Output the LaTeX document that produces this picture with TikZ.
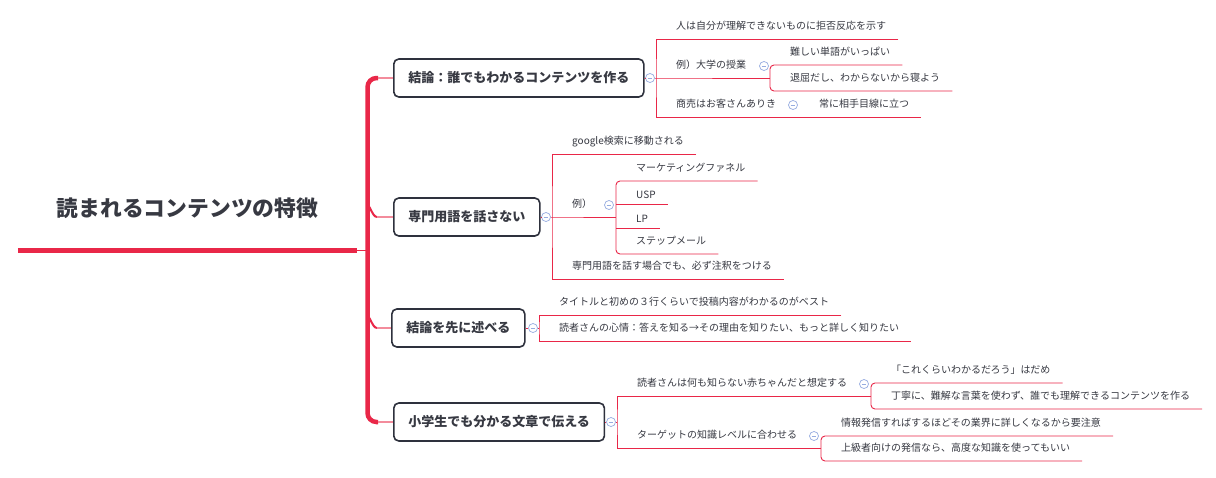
\documentclass[tikz,border=0pt]{standalone}
\usepackage{fontspec}
\setmainfont{Noto Sans CJK JP}
\usetikzlibrary{calc}

\definecolor{crim}{RGB}{233,39,72}
\definecolor{pinkb}{RGB}{243,140,156}
\definecolor{boxc}{RGB}{46,49,61}
\definecolor{txt}{RGB}{55,57,66}
\definecolor{foldc}{RGB}{150,172,224}

\begin{document}
\begin{tikzpicture}[x=1pt, y=-1pt,
  every node/.style={font=\fontsize{10}{12}\selectfont, text=txt},
  ln/.style={crim, line width=0.9pt},
  spine/.style={crim, line width=4.5pt},
  fillet/.style={crim, line width=2pt},
  branch/.style={pinkb, line width=1.8pt},
  trunk/.style={crim, line width=5pt},
  topic/.style={draw=boxc, line width=1.6pt, rounded corners=5pt, fill=white,
    anchor=west, minimum height=38pt, inner xsep=14.5pt,
    font=\bfseries\fontsize{13}{15}\selectfont},
  sub/.style={anchor=south west, inner xsep=12pt, inner ysep=2pt,
    text height=8pt, text depth=7.5pt},
  latin/.style={sub, text depth=3.5pt},
  fold/.style={circle, draw=foldc, fill=white, line width=0.7pt,
    minimum size=9pt, inner sep=0pt,
    path picture={\draw[foldc, line width=0.7pt]
      ($(path picture bounding box.center)+(-2.3,0)$) --
      ($(path picture bounding box.center)+(2.3,0)$);}},
  root/.style={anchor=south, minimum width=339pt, inner xsep=0pt,
    inner ysep=2.6pt, text height=17pt, text depth=31pt,
    font=\bfseries\fontsize{21.8}{26}\selectfont}]

\fill[white] (0,0) rectangle (1216,477);
\useasboundingbox (0,0) rectangle (1216,477);

% ============================
% Root and spine
% ============================
\node[root] (root) at (187.5,250) {読まれるコンテンツの特徴};

\coordinate (s0) at (367.5,250);
\coordinate (sTop) at (367.5,78);
\coordinate (sBot) at (367.5,422);
\coordinate (b1) at (378,78);
\coordinate (b2) at (377,217);
\coordinate (b3) at (377,328);
\coordinate (b4) at (378,422);

\draw[trunk] (root.south west) -- (root.south east);
\draw[ln] (root.south east) -- (s0);
\draw[spine, rounded corners=9pt] (b1) -- (sTop) -- (sBot) -- (b4);
\draw[fillet] ($(b2)+(-8,-9)$) to[out=90,in=180] (b2);
\draw[fillet] ($(b3)+(-8,-9)$) to[out=90,in=180] (b3);

% ============================
% Main topics
% ============================
\node[topic] (t1) at (393,78)  {結論：誰でもわかるコンテンツを作る};
\node[topic] (t2) at (393,217) {専門用語を話さない};
\node[topic] (t3) at (391,328) {結論を先に述べる};
\node[topic] (t4) at (393,422) {小学生でも分かる文章で伝える};

\draw[branch] (b1) -- (t1);
\draw[branch] (b2) -- (t2);
\draw[branch] (b3) -- (t3);
\draw[branch] (b4) -- (t4);

% ============================
% Fold marks
% ============================
\foreach \n/\x/\y in {c1/650/78, c2/546/217, c3/533/328, c4/611/422,
                      c12/764/66, c13/793/105, c22/609/205, c41/864/384, c42/814/436}{
  \node[fold] (\n) at (\x,\y) {};
}

% ============================
% First topic
% ============================
\coordinate (k1) at (656,78);
\coordinate (k12) at (770,78);

\node[sub] (t11) at (664,39)  {人は自分が理解できないものに拒否反応を示す};
\node[sub] (t12) at (664,78)  {例）大学の授業};
\node[sub] (t13) at (664,117) {商売はお客さんありき};
\node[sub] (t121) at (778,65) {難しい単語がいっぱい};
\node[sub] (t122) at (778,91) {退屈だし、わからないから寝よう};
\node[sub] (t131) at (807,117) {常に相手目線に立つ};

\draw[ln] (t1) -- (c1) -- (k1) -- (k12);
\draw[ln] (t11.south east) -| (k1) |- (t131.south east);
\draw[ln, rounded corners=4pt] (t121.south east) -| (k12) |- (t122.south east);

% ============================
% Second topic
% ============================
\coordinate (k2) at (552,217);
\coordinate (k22) at (616,217);

\node[sub] (t21) at (560,154) {google検索に移動される};
\node[sub] (t22) at (560,217) {例）};
\node[sub] (t23) at (560,279) {専門用語を話す場合でも、必ず注釈をつける};
\node[sub] (t221) at (624,181) {マーケティングファネル};
\node[latin] (t222) at (624,204) {USP};
\node[latin] (t223) at (624,228) {LP};
\node[sub] (t224) at (624,254) {ステップメール};

\draw[ln] (t2) -- (c2) -- (k2) -- (k22);
\draw[ln] (t21.south east) -| (k2) |- (t23.south east);
\draw[ln, rounded corners=4pt] (t221.south east) -| (k22) |- (t224.south east);
\draw[ln] (k22 |- t222.south) -- (t222.south east);
\draw[ln] (k22 |- t223.south) -- (t223.south east);

% ============================
% Third topic
% ============================
\coordinate (k3) at (539,328);

\node[sub] (t31) at (547,315) {タイトルと初めの３行くらいで投稿内容がわかるのがベスト};
\node[sub] (t32) at (547,341) {読者さんの心情：答えを知る→その理由を知りたい、もっと詳しく知りたい};

\draw[ln] (t3) -- (c3) -- (k3);
\draw[ln] (t31.south east) -| (k3) |- (t32.south east);

% ============================
% Fourth topic
% ============================
\coordinate (k4) at (617,422);
\coordinate (k41) at (871,396);
\coordinate (k42) at (821,448);

\node[sub] (t41) at (625,396) {読者さんは何も知らない赤ちゃんだと想定する};
\node[sub] (t42) at (625,448) {ターゲットの知識レベルに合わせる};
\node[sub] (t411) at (879,383) {「これくらいわかるだろう」はだめ};
\node[sub] (t412) at (879,409) {丁寧に、難解な言葉を使わず、誰でも理解できるコンテンツを作る};
\node[sub] (t421) at (829,436) {情報発信すればするほどその業界に詳しくなるから要注意};
\node[sub] (t422) at (829,461) {上級者向けの発信なら、高度な知識を使ってもいい};

\draw[ln] (t4) -- (c4) -- (k4);
\draw[ln] (k41) -| (k4) |- (k42);
\draw[ln, rounded corners=4pt] (t411.south east) -| (k41) |- (t412.south east);
\draw[ln, rounded corners=4pt] (t421.south east) -| (k42) |- (t422.south east);

\end{tikzpicture}
\end{document}
